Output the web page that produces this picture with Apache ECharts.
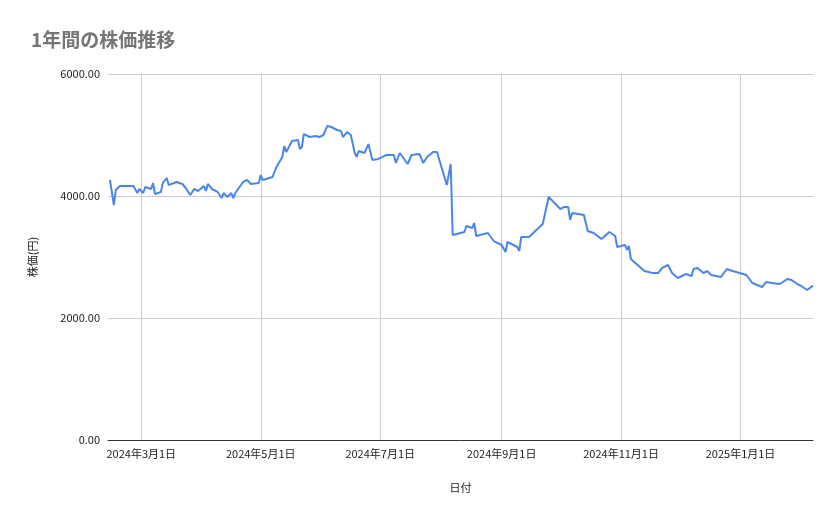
<!DOCTYPE html>
<html><head><meta charset="utf-8">
<script src="https://cdn.jsdelivr.net/npm/echarts@6/dist/echarts.min.js"></script>
<style>html,body{margin:0;padding:0;background:#fff}#c{width:839px;height:519px}</style>
</head><body><div id="c"></div>
<script>
// days since 2024-03-01
const dayOffsets = [-16,-14,-13,-11,-8,-4,-2,-1,1,2,5,6,7,10,11,13,14,18,21,23,25,27,29,32,33,34,36,39,41,42,44,46,47,48,52,54,56,60,61,62,67,69,72,73,74,77,80,81,82,83,86,89,91,93,95,97,100,102,103,105,107,109,110,111,114,116,117,118,121,123,124,125,129,130,132,136,138,142,144,146,149,151,156,158,159,165,166,169,170,171,177,180,184,186,187,192,193,194,198,205,208,214,216,218,219,220,226,228,231,235,239,242,243,247,248,249,250,254,257,261,264,266,269,271,274,278,281,282,284,287,289,291,296,299,302,309,312,317,318,319,322,323,326,330,332,335,337,340,343];
const prices = [4262,3852,4098,4164,4164,4164,4049,4115,4049,4148,4115,4213,4033,4066,4213,4295,4180,4230,4197,4115,4016,4115,4082,4164,4082,4197,4115,4066,3967,4049,3984,4049,3967,4049,4230,4262,4197,4213,4344,4262,4311,4475,4639,4820,4721,4902,4918,4770,4803,5016,4967,4984,4967,5000,5148,5131,5082,5066,4967,5049,5000,4705,4639,4738,4705,4852,4836,4590,4607,4639,4607,4672,4672,4541,4705,4525,4672,4689,4541,4639,4721,4721,4180,4525,3361,3410,3508,3475,3557,3344,3393,3262,3197,3082,3246,3164,3098,3328,3328,3541,3984,3787,3820,3820,3607,3721,3689,3426,3393,3295,3410,3344,3164,3197,3115,3180,2967,2852,2770,2738,2738,2820,2869,2738,2656,2721,2689,2803,2820,2738,2770,2705,2672,2803,2770,2705,2574,2508,2508,2590,2574,2590,2557,2639,2623,2557,2525,2459,2530];
const tickDates = ['2024-03-01','2024-05-01','2024-07-01','2024-09-01','2024-11-01','2025-01-01'];
const yTicks = [0,2000,4000,6000];

const base = Date.UTC(2024,2,1);
const DAY = 86400000;
const data = dayOffsets.map((d,i)=>[base+d*DAY, prices[i]]);
const tickMs = tickDates.map(s=>Date.parse(s+'T00:00:00Z'));
const fmt = v=>{const d=new Date(v);return d.getUTCFullYear()+'年'+(d.getUTCMonth()+1)+'月'+d.getUTCDate()+'日';};
const font = '"Noto Sans CJK JP", Roboto, sans-serif';
const chart = echarts.init(document.getElementById('c'));
chart.setOption({
  animation:false,
  title:{text:'1年間の株価推移',left:26,top:25,textStyle:{color:'#757575',fontSize:19,fontWeight:'bold',fontFamily:font}},
  grid:{left:108,right:26,top:74,bottom:79},
  xAxis:{type:'value',min:base-17*DAY,max:base+343*DAY,
    name:'日付',nameLocation:'middle',nameGap:42,nameTextStyle:{color:'#222',fontSize:11,fontFamily:font},
    axisLine:{lineStyle:{color:'#333'}},axisTick:{show:false,customValues:tickMs},
    axisLabel:{customValues:tickMs,formatter:fmt,color:'#222',fontSize:11,fontFamily:font,margin:8},
    splitLine:{show:false}},
  yAxis:{type:'value',min:0,max:6000,interval:2000,
    name:'株価(円)',nameLocation:'middle',nameGap:70,nameTextStyle:{color:'#222',fontSize:11,fontFamily:font},
    axisLine:{show:false},axisTick:{show:false},
    axisLabel:{formatter:v=>yTicks.includes(v)?v.toFixed(2):'',color:'#222',fontSize:11,fontFamily:font},
    splitLine:{lineStyle:{color:'#ccc'}}},
  series:[{type:'line',data:data,showSymbol:false,lineStyle:{color:'#4a86e8',width:2},itemStyle:{color:'#4a86e8'},z:3,
    markLine:{silent:true,symbol:['none','none'],label:{show:false},animation:false,
      lineStyle:{color:'#ccc',type:'solid',width:1},z:1,
      data:tickMs.map(t=>({xAxis:t}))}}]
});
</script></body></html>
